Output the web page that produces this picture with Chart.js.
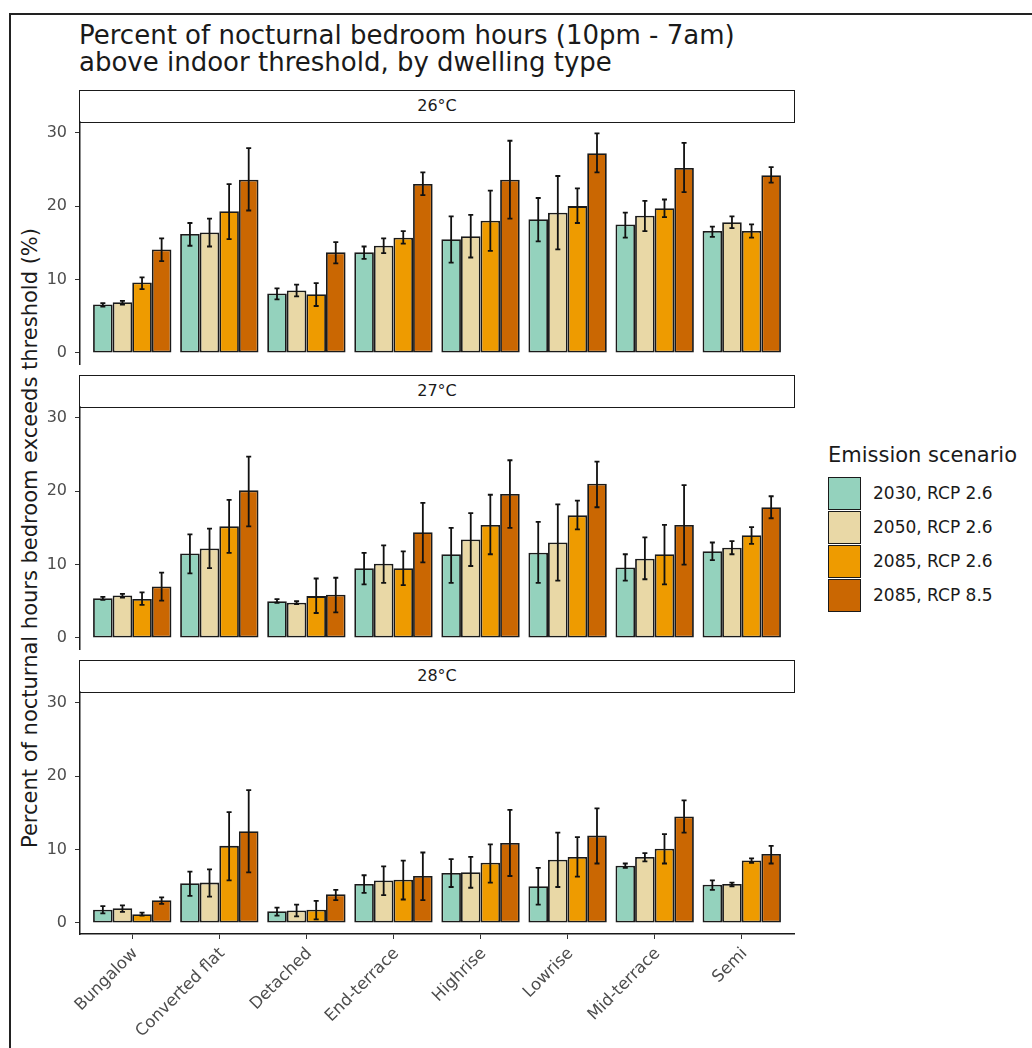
<!DOCTYPE html>
<html>
<head>
<meta charset="utf-8">
<script src="https://cdn.jsdelivr.net/npm/chart.js@4.4.1/dist/chart.umd.min.js"></script>
<style>
  body { margin: 0; background: #fff; width: 1032px; height: 1048px; overflow: hidden; position: relative; font-family: 'DejaVu Sans', sans-serif; color: #1a1a1a; }
  .frame { position: absolute; left: 9px; top: 13px; width: 1100px; height: 1100px; border: 2px solid #222; }
  .title { position: absolute; left: 79px; top: 22px; font-size: 26px; line-height: 27px; white-space: nowrap; }
  .strip { position: absolute; left: 79px; width: 716px; height: 33px; box-sizing: border-box; border: 1.5px solid #1a1a1a; background: #fff; text-align: center; font-size: 16px; line-height: 30px; }
  .panel { position: absolute; left: 0; }
  .ytitle { position: absolute; left: -370px; top: 526px; width: 800px; text-align: center; font-size: 21px; line-height: 24px; transform: rotate(-90deg); white-space: nowrap; }
  .legend-title { position: absolute; left: 828px; top: 445px; font-size: 21px; line-height: 21px; white-space: nowrap; }
  .key { position: absolute; left: 828px; width: 33px; height: 33px; box-sizing: border-box; border: 1.5px solid #1a1a1a; }
  .key-label { position: absolute; left: 873px; font-size: 17px; line-height: 20px; white-space: nowrap; }
</style>
</head>
<body>
<div class="frame"></div>
<div class="title">Percent of nocturnal bedroom hours (10pm - 7am)<br>above indoor threshold, by dwelling type</div>
<div class="ytitle">Percent of nocturnal hours bedroom exceeds threshold (%)</div>
<div id="panels"></div>
<div id="legend"></div>

<script>
// dwelling types along the x axis
const categories = ['Bungalow', 'Converted flat', 'Detached', 'End-terrace', 'Highrise', 'Lowrise', 'Mid-terrace', 'Semi'];
const scenarios = ['2030, RCP 2.6', '2050, RCP 2.6', '2085, RCP 2.6', '2085, RCP 8.5'];
const scenarioColors = ['#94d2bd', '#e9d8a6', '#ee9b00', '#ca6702'];
const thresholds = ['26°C', '27°C', '28°C'];
const yTicks = [0, 10, 20, 30];

// one row per scenario, one value per dwelling type
const mean26 = [
    [6.6, 16.2, 8.1, 13.7, 15.5, 18.2, 17.5, 16.6],
    [6.9, 16.4, 8.5, 14.6, 15.9, 19.1, 18.7, 17.8],
    [9.6, 19.3, 8.0, 15.7, 18.0, 20.0, 19.7, 16.6],
    [14.1, 23.6, 13.7, 23.0, 23.6, 27.2, 25.2, 24.2]
];
const low26 = [
    [6.3, 14.6, 7.3, 12.8, 12.3, 15.2, 15.7, 15.8],
    [6.6, 14.5, 7.7, 13.6, 13.0, 14.1, 16.6, 17.0],
    [8.7, 15.5, 6.4, 14.9, 13.9, 17.7, 18.5, 15.7],
    [12.5, 19.4, 12.2, 21.5, 18.3, 24.6, 21.9, 23.2]
];
const high26 = [
    [6.8, 17.7, 8.8, 14.5, 18.6, 21.1, 19.1, 17.2],
    [7.1, 18.3, 9.3, 15.6, 18.8, 24.1, 20.7, 18.6],
    [10.3, 23.0, 9.5, 16.6, 22.1, 22.4, 20.9, 17.5],
    [15.6, 27.9, 15.1, 24.6, 28.9, 29.9, 28.6, 25.3]
];

const mean27 = [
    [5.4, 11.5, 5.0, 9.5, 11.4, 11.6, 9.6, 11.8],
    [5.8, 12.2, 4.8, 10.1, 13.4, 13.0, 10.8, 12.3],
    [5.3, 15.2, 5.7, 9.5, 15.4, 16.7, 11.4, 14.0],
    [7.0, 20.1, 5.9, 14.4, 19.6, 21.0, 15.4, 17.8]
];
const low27 = [
    [5.2, 8.8, 4.8, 7.3, 7.5, 7.5, 7.8, 10.6],
    [5.5, 9.5, 4.6, 7.5, 9.8, 7.8, 8.0, 11.4],
    [4.5, 11.6, 3.4, 7.2, 11.4, 14.8, 7.3, 12.8],
    [5.1, 15.2, 3.5, 10.3, 15.0, 17.8, 10.0, 16.3]
];
const high27 = [
    [5.6, 14.1, 5.3, 11.6, 15.0, 15.8, 11.4, 13.0],
    [6.0, 14.9, 5.0, 12.6, 17.0, 18.2, 13.7, 13.2],
    [6.2, 18.8, 8.1, 11.8, 19.5, 18.7, 15.4, 15.1],
    [8.9, 24.7, 8.2, 18.4, 24.2, 24.0, 20.8, 19.3]
];

const mean28 = [
    [1.8, 5.4, 1.6, 5.3, 6.8, 5.0, 7.8, 5.2],
    [2.0, 5.5, 1.7, 5.8, 6.9, 8.6, 9.0, 5.3],
    [1.2, 10.5, 1.8, 5.9, 8.2, 9.0, 10.1, 8.5],
    [3.1, 12.5, 3.9, 6.4, 10.9, 11.9, 14.5, 9.4]
];
const low28 = [
    [1.3, 3.7, 1.0, 4.1, 4.9, 2.5, 7.5, 4.5],
    [1.5, 3.6, 0.9, 3.8, 4.8, 4.9, 8.4, 5.0],
    [1.0, 5.8, 0.5, 3.2, 5.5, 6.3, 8.1, 8.2],
    [2.6, 6.9, 3.1, 3.1, 6.4, 8.1, 12.3, 8.1]
];
const high28 = [
    [2.3, 7.0, 2.1, 6.5, 8.7, 7.5, 8.1, 5.8],
    [2.4, 7.3, 2.5, 7.7, 9.0, 12.3, 9.5, 5.5],
    [1.4, 15.1, 3.0, 8.5, 10.7, 11.7, 12.1, 8.8],
    [3.5, 18.1, 4.5, 9.6, 15.4, 15.6, 16.7, 10.5]
];

const panelData = [
    { mean: mean26, low: low26, high: high26 },
    { mean: mean27, low: low27, high: high27 },
    { mean: mean28, low: low28, high: high28 }
];

// page layout of each facet (chart area top, strip above it)
const panelTops = [122, 407, 692];
const AREA_H = 242;
const PAD = 10;

const errorBars = {
    id: 'errorBars',
    afterDatasetsDraw(chart) {
        const { ctx } = chart;
        const yScale = chart.scales.y;
        ctx.save();
        ctx.strokeStyle = '#111';
        ctx.lineWidth = 1.8;
        chart.data.datasets.forEach((ds, di) => {
            const meta = chart.getDatasetMeta(di);
            meta.data.forEach((bar, i) => {
                const top = yScale.getPixelForValue(ds.errHigh[i]);
                const bot = yScale.getPixelForValue(ds.errLow[i]);
                ctx.beginPath();
                ctx.moveTo(bar.x, top); ctx.lineTo(bar.x, bot);
                ctx.moveTo(bar.x - 2.5, top); ctx.lineTo(bar.x + 2.5, top);
                ctx.moveTo(bar.x - 2.5, bot); ctx.lineTo(bar.x + 2.5, bot);
                ctx.stroke();
            });
        });
        ctx.restore();
    }
};

const panelsEl = document.getElementById('panels');

thresholds.forEach((label, p) => {
    const isLast = p === thresholds.length - 1;

    const strip = document.createElement('div');
    strip.className = 'strip';
    strip.style.top = (panelTops[p] - 32) + 'px';
    strip.textContent = label;
    panelsEl.appendChild(strip);

    const canvasTop = panelTops[p] - PAD;
    const canvasH = isLast ? 1048 - canvasTop : AREA_H + 2 * PAD;
    const canvas = document.createElement('canvas');
    canvas.className = 'panel';
    canvas.width = 800;
    canvas.height = canvasH;
    canvas.style.top = canvasTop + 'px';
    panelsEl.appendChild(canvas);

    const d = panelData[p];

    new Chart(canvas.getContext('2d'), {
        type: 'bar',
        data: {
            labels: categories.map((c, i) => i + 1),
            datasets: scenarios.map((s, k) => ({
                label: s,
                data: d.mean[k],
                errLow: d.low[k],
                errHigh: d.high[k],
                backgroundColor: scenarioColors[k],
                borderColor: '#1a1a1a',
                borderWidth: 1.8,
                borderSkipped: false,
                categoryPercentage: 0.9,
                barPercentage: 1.0
            }))
        },
        options: {
            responsive: false,
            animation: false,
            layout: { padding: { top: PAD, bottom: isLast ? 0 : PAD, left: 0, right: 6 } },
            plugins: { legend: { display: false }, tooltip: { enabled: false } },
            scales: {
                x: {
                    type: 'linear',
                    display: isLast,
                    min: 0.4,
                    max: 8.6,
                    offset: false,
                    afterBuildTicks: (scale) => { scale.ticks = categories.map((c, i) => ({ value: i + 1 })); },
                    afterFit: (scale) => {
                        if (isLast) scale.height = 1048 - (panelTops[p] + AREA_H);
                        scale.paddingLeft = 0;
                        scale.paddingRight = 0;
                    },
                    grid: { offset: false, drawOnChartArea: false, drawTicks: true, tickLength: 5, color: '#333' },
                    border: { display: true, color: '#1a1a1a', width: 1.5 },
                    ticks: {
                        autoSkip: false,
                        minRotation: 45,
                        maxRotation: 45,
                        padding: 5,
                        labelOffset: 3,
                        color: '#4d4d4d',
                        font: { family: "'DejaVu Sans', sans-serif", size: 16.5 },
                        callback: (value) => categories[value - 1]
                    }
                },
                y: {
                    min: -1.5,
                    max: 31.45,
                    afterBuildTicks: (scale) => { scale.ticks = yTicks.map(v => ({ value: v })); },
                    afterFit: (scale) => {
                        scale.width = 80;
                        scale.paddingTop = 0;
                        scale.paddingBottom = 0;
                    },
                    grid: { drawOnChartArea: false, drawTicks: true, tickLength: 5, color: '#333' },
                    border: { display: true, color: '#1a1a1a', width: 1.5 },
                    ticks: {
                        padding: 8,
                        color: '#4d4d4d',
                        font: { family: "'DejaVu Sans', sans-serif", size: 16 }
                    }
                }
            }
        },
        plugins: [errorBars]
    });
});

// legend
const legendEl = document.getElementById('legend');
const lt = document.createElement('div');
lt.className = 'legend-title';
lt.textContent = 'Emission scenario';
legendEl.appendChild(lt);
scenarios.forEach((s, k) => {
    const key = document.createElement('div');
    key.className = 'key';
    key.style.top = (477 + k * 34) + 'px';
    key.style.background = scenarioColors[k];
    legendEl.appendChild(key);
    const txt = document.createElement('div');
    txt.className = 'key-label';
    txt.style.top = (477 + k * 34 + 6) + 'px';
    txt.textContent = s;
    legendEl.appendChild(txt);
});
</script>
</body>
</html>
